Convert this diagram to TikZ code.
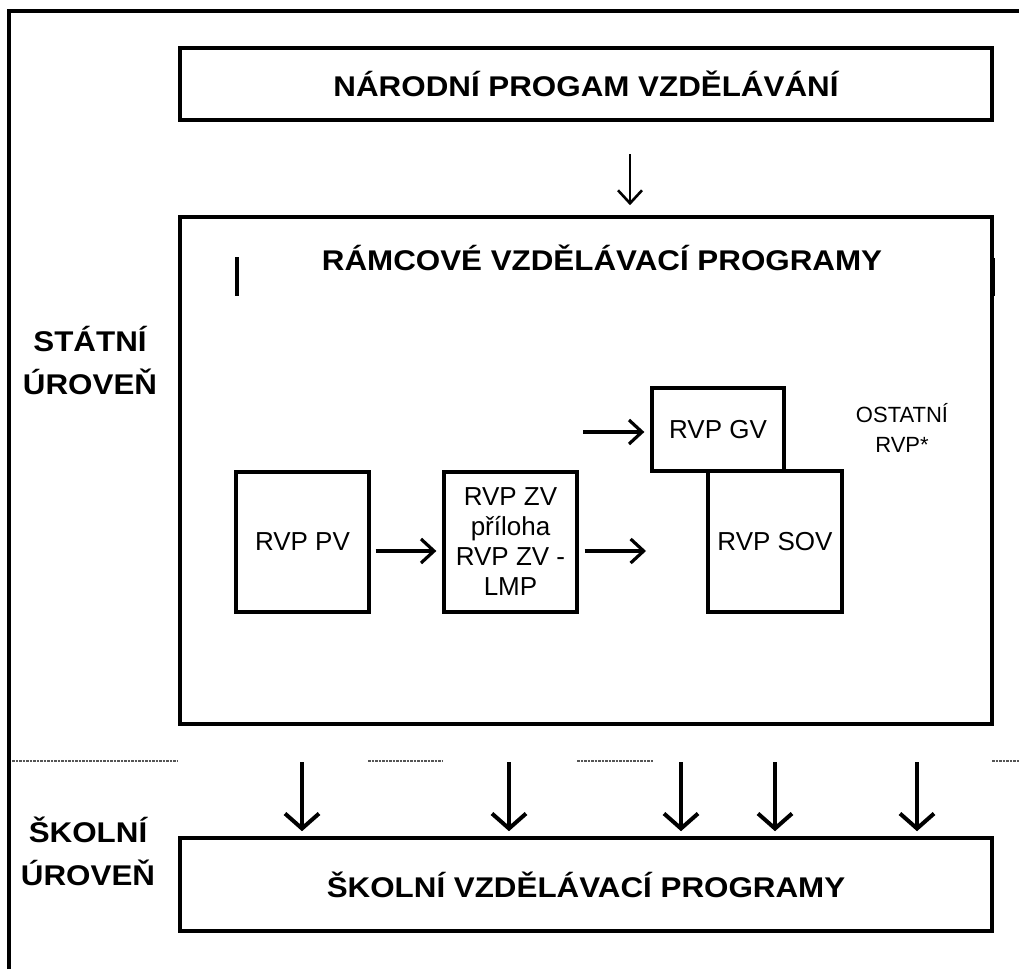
\documentclass[tikz,border=0pt]{standalone}
\usepackage{fontspec}
\setmainfont{Liberation Sans}
\newfontfamily\headfont[FakeStretch=1.1]{Liberation Sans Bold}
\usepackage{xcolor}
\usepackage{tikz}
\usetikzlibrary{arrows.meta}
\definecolor{dashGray}{HTML}{555555}

\begin{document}
\begin{tikzpicture}[x=1pt, y=-1pt,
    bigbox/.style={draw, line width=3.6pt, inner sep=0pt},
    smallbox/.style={draw, line width=3.3pt, inner sep=0pt, align=center, font=\fontsize{26}{30}\selectfont},
    headtext/.style={align=center, inner sep=0pt, font=\headfont\fontsize{28.5}{43}\selectfont},
    arr/.style={line width=3.2pt, -{Straight Barb[length=13pt, width=24pt]}},
    bigarr/.style={line width=4pt, -{Straight Barb[length=15pt, width=34pt]}}]
                \useasboundingbox (0,0) rectangle (1019,969);
                \draw[line width=4.6pt] (9,969) -- (9,11) -- (1019,11);

                \node[bigbox, minimum width=812pt, minimum height=72.5pt] (nvp) at (586,84) {};
                \node[headtext] at (nvp.center) {NÁRODNÍ PROGAM VZDĚLÁVÁNÍ};
                \node[bigbox, minimum width=812pt, minimum height=507pt] (rvp) at (586,470.5) {};
                \node[headtext] (rvptitle) at (602,258) {RÁMCOVÉ VZDĚLÁVACÍ PROGRAMY};
                \node[bigbox, minimum width=812pt, minimum height=93pt] (svp) at (586,884.5) {};
                \node[headtext] at (svp.center) {ŠKOLNÍ VZDĚLÁVACÍ PROGRAMY};

                \node[headtext] (statni) at (90,361) {STÁTNÍ\\ÚROVEŇ};
                \node[headtext] (skolni) at (88,851) {ŠKOLNÍ\\ÚROVEŇ};

                \draw[line width=3.6pt] (237,257) -- (237,296);
                \draw[line width=3.6pt] (993,258) -- (993,296);

                \node[smallbox, minimum width=133pt, minimum height=140pt] (pv) at (302.5,542) {RVP PV};
                \node[smallbox, minimum width=133pt, minimum height=140pt] (zv) at (510.5,542) {RVP ZV\\příloha\\RVP ZV -\\LMP};
                \node[smallbox, minimum width=132pt, minimum height=83pt] (gv) at (718,429.5) {RVP GV};
                \node[smallbox, minimum width=134pt, minimum height=141pt] (sov) at (775,541.5) {RVP SOV};
                \node[align=center, inner sep=0pt, font=\fontsize{22}{30}\selectfont] (ostatni) at (902,428) {OSTATNÍ\\RVP*};

                \draw[arr, line width=2.6pt, shorten <=32pt, shorten >=10pt] ([xshift=44pt]nvp.south) -- ([xshift=44pt]rvp.north);
                \draw[arr, shorten <=5pt, shorten >=6pt] ([yshift=-9pt]pv.east) -- ([yshift=-9pt]zv.west);
                \coordinate (gvin) at (583,432);
                \coordinate (sovin) at (646,551);
                \draw[arr, shorten >=6pt] (gvin) -- (gvin -| gv.west);
                \draw[arr, shorten <=6pt] (zv.east |- sovin) -- (sovin);

                \foreach \x in {302,509,681,775,917} {
                    \coordinate (d\x) at (\x,762);
                    \draw[bigarr, shorten >=5pt] (d\x) -- (d\x |- svp.north);
                }

                \draw[dashGray, line width=1.2pt, dash pattern=on 2.5pt off 1pt] (12,761) -- (178,761);
                \draw[dashGray, line width=1.2pt, dash pattern=on 2.5pt off 1pt] (368,761) -- (443,761);
                \draw[dashGray, line width=1.2pt, dash pattern=on 2.5pt off 1pt] (577,761) -- (653,761);
                \draw[dashGray, line width=1.2pt, dash pattern=on 2.5pt off 1pt] (992,761) -- (1019,761);
            \end{tikzpicture}
\end{document}
